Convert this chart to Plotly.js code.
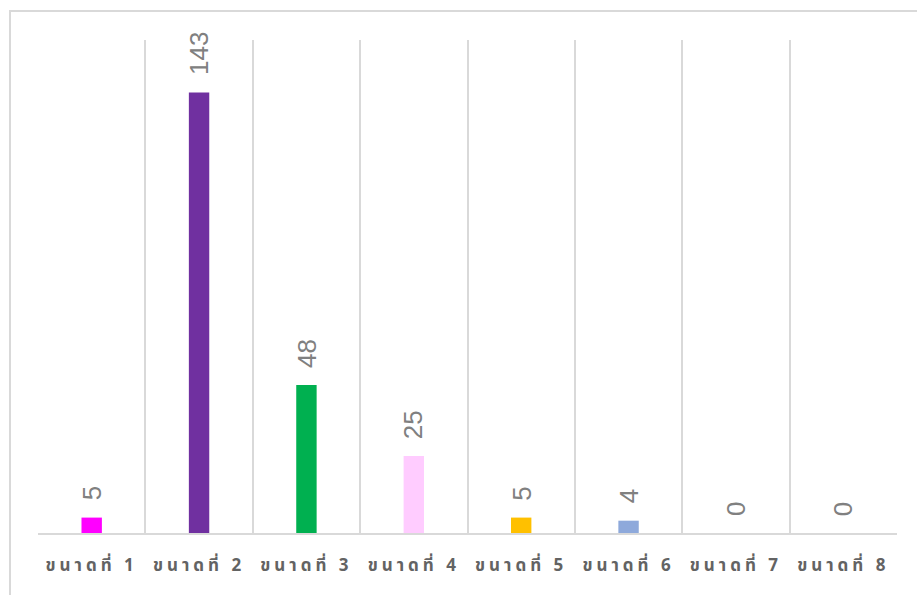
<!DOCTYPE html>
<html>
<head>
<meta charset="utf-8">
<script src="https://cdn.plot.ly/plotly-3.0.1.min.js"></script>
<style>
  html, body { margin: 0; padding: 0; background: #ffffff; }
  #frame { position: absolute; left: 9px; top: 10px; width: 940px; height: 620px; border: 2px solid #d9d9d9; box-sizing: border-box; }
  #chart { position: absolute; left: 0; top: 0; width: 917px; height: 595px; }
  .xtick text { letter-spacing: 4px; }
</style>
</head>
<body>
<div id="frame"></div>
<div id="chart"></div>
<script>
const categories = ["ขนาดที่ 1", "ขนาดที่ 2", "ขนาดที่ 3", "ขนาดที่ 4", "ขนาดที่ 5", "ขนาดที่ 6", "ขนาดที่ 7", "ขนาดที่ 8"];
const values = [5, 143, 48, 25, 5, 4, 0, 0];
const barColors = ["#FF00FF", "#7030A0", "#00B050", "#FFCCFF", "#FFC000", "#8EA9DB", "#4472C4", "#ED7D31"];

const trace = {
  type: "bar",
  x: categories,
  y: values,
  width: 0.19,
  marker: { color: barColors },
  hoverinfo: "none"
};

const annotations = categories.map((c, i) => ({
  x: c,
  y: values[i],
  xref: "x",
  yref: "y",
  text: String(values[i]),
  showarrow: false,
  textangle: -90,
  xanchor: "center",
  yanchor: "bottom",
  yshift: 15,
  font: { family: "Liberation Sans, Arial, sans-serif", size: 26, color: "#808080" }
}));

const layout = {
  width: 917,
  height: 595,
  margin: { l: 38, r: 20, t: 40, b: 62 },
  paper_bgcolor: "rgba(0,0,0,0)",
  plot_bgcolor: "rgba(0,0,0,0)",
  showlegend: false,
  xaxis: {
    type: "category",
    tickson: "boundaries",
    showgrid: true,
    gridcolor: "#d9d9d9",
    gridwidth: 2,
    showline: true,
    linecolor: "#d9d9d9",
    linewidth: 2,
    ticks: "",
    ticklen: 0,
    ticklabelstandoff: 16,
    tickfont: { family: "Noto Sans Thai, Noto Sans, DejaVu Sans, sans-serif", size: 17, color: "#636363", weight: "bold" },
    fixedrange: true
  },
  yaxis: {
    range: [0, 160],
    visible: false,
    showgrid: false,
    zeroline: false,
    fixedrange: true
  },
  annotations: annotations
};

Plotly.newPlot("chart", [trace], layout, { displayModeBar: false, staticPlot: true });
</script>
</body>
</html>
